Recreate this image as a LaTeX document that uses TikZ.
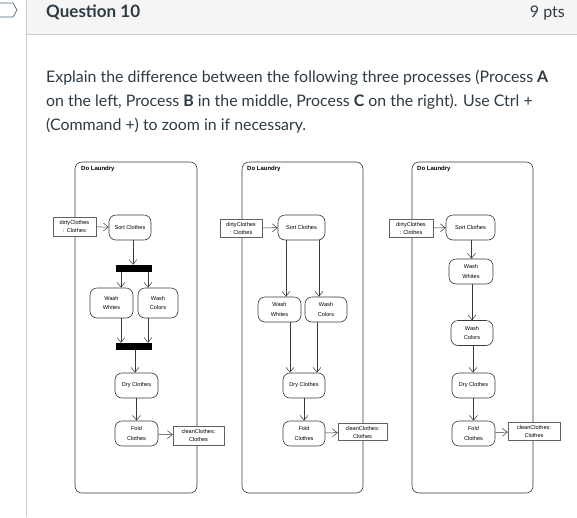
\documentclass[tikz,border=0pt]{standalone}
\usepackage{fontspec}
\setmainfont{Lato}
\newfontfamily\diafont{Liberation Sans}
\usetikzlibrary{arrows.meta}
\definecolor{canvastext}{HTML}{2D3B45}
\definecolor{hdrbg}{HTML}{F5F5F5}
\definecolor{hdrline}{HTML}{C7CDD1}
\definecolor{tabblue}{HTML}{4A6B8A}
\definecolor{dline}{HTML}{3A3A3A}
\tikzset{
  act/.style={draw=dline, line width=0.6pt, rounded corners=7pt, fill=white, inner sep=0pt, align=center, font=\diafont\fontsize{5.6}{9.5}\selectfont},
  obj/.style={draw=dline!80, line width=0.5pt, fill=white, inner sep=0pt, align=center, font=\diafont\fontsize{5.6}{8}\selectfont},
  bar/.style={fill=black, inner sep=0pt, minimum width=36pt, minimum height=7pt},
  frm/.style={draw=dline, line width=0.6pt, rounded corners=7pt},
  arr/.style={draw=dline, line width=0.5pt, -{Straight Barb[length=5pt,width=8pt,line width=0.5pt]}},
  ttl/.style={font=\diafont\bfseries\fontsize{6}{7}\selectfont, anchor=west, inner sep=0pt},
  bodytxt/.style={anchor=base west, inner sep=0pt, text=canvastext, font=\fontsize{15.9}{24}\selectfont},
}
\begin{document}
\begin{tikzpicture}[x=1pt,y=-1pt]
\useasboundingbox (0,0) rectangle (577,517);
\fill[white] (0,0) rectangle (577,517);
% header
\fill[hdrbg] (27,0) rectangle (577,34);
\draw[hdrline, line width=1pt] (27,34) -- (577,34);
\draw[hdrline, line width=1pt] (26.5,0) -- (26.5,517);
\draw[tabblue, line width=0.7pt] (-2,3) -- (13,3) -- (17,10) -- (13,17) -- (-2,17);
\node[anchor=base west, inner sep=0pt, text=canvastext, font=\bfseries\fontsize{17}{20}\selectfont] (qt) at (46,17) {Question 10};
\node[anchor=base east, inner sep=0pt, text=canvastext, font=\fontsize{16}{20}\selectfont] (pts) at (565,17) {9 pts};
% body text
\node[bodytxt] (l1) at (46,82) {Explain the difference between the following three processes (Process \textbf{A}};
\node[bodytxt] (l2) at (46,106) {on the left, Process \textbf{B} in the middle, Process \textbf{C} on the right). Use Ctrl +};
\node[bodytxt] (l3) at (46,130) {(Command +) to zoom in if necessary.};

% ===== Diagram A =====
\draw[frm] (75,162) rectangle (197,493);
\node[ttl] (tA) at (81,169) {Do Laundry};
\node[obj, minimum width=43pt, minimum height=19pt] (dirtyA) at (74.5,226.5) {dirtyClothes\\: Clothes};
\node[act, minimum width=42pt, minimum height=25pt] (sortA) at (130,227.5) {Sort Clothes};
\node[bar] (forkA) at (134,268.5) {};
\node[act, minimum width=43pt, minimum height=30pt] (wwA) at (111.5,303) {Wash\\Whites};
\node[act, minimum width=40pt, minimum height=30pt] (wcA) at (158,303) {Wash\\Colors};
\node[bar] (joinA) at (134,346.5) {};
\node[act, minimum width=43pt, minimum height=25pt] (dryA) at (136.5,385.5) {Dry Clothes};
\node[act, minimum width=43pt, minimum height=25pt] (foldA) at (136.5,433.5) {Fold\\Clothes};
\node[obj, minimum width=51pt, minimum height=19pt] (cleanA) at (198.5,435.5) {cleanClothes:\\Clothes};
\draw[arr] (dirtyA) -- (sortA);
\draw[arr] ([xshift=3pt]sortA.south) -- ([xshift=3pt]sortA.south |- forkA.north);
\draw[arr] ([xshift=9.5pt]wwA.north |- forkA.south) -- ([xshift=9.5pt]wwA.north);
\draw[arr] ([xshift=-10pt]wcA.north |- forkA.south) -- ([xshift=-10pt]wcA.north);
\draw[arr] ([xshift=9.5pt]wwA.south) -- ([xshift=9.5pt]wwA.south |- joinA.north);
\draw[arr] ([xshift=-10pt]wcA.south) -- ([xshift=-10pt]wcA.south |- joinA.north);
\draw[arr] ([xshift=-1.5pt]dryA.north |- joinA.south) -- ([xshift=-1.5pt]dryA.north);
\draw[arr] (dryA) -- (foldA);
\draw[arr] (foldA) -- (cleanA);

% ===== Diagram B =====
\draw[frm] (242,162) rectangle (363,493);
\node[ttl] (tB) at (247,169) {Do Laundry};
\node[obj, minimum width=42pt, minimum height=18pt] (dirtyB) at (241,228) {dirtyClothes\\: Clothes};
\node[act, minimum width=47pt, minimum height=25pt] (sortB) at (301.5,227.5) {Sort Clothes};
\node[act, minimum width=43pt, minimum height=25pt] (wwB) at (279.5,309.5) {Wash\\Whites};
\node[act, minimum width=42pt, minimum height=25pt] (wcB) at (326,309.5) {Wash\\Colors};
\node[act, minimum width=42pt, minimum height=25pt] (dryB) at (304,385.5) {Dry Clothes};
\node[act, minimum width=42pt, minimum height=25pt] (foldB) at (304,433.5) {Fold\\Clothes};
\node[obj, minimum width=49pt, minimum height=17pt] (cleanB) at (362.5,432) {cleanClothes:\\Clothes};
\draw[arr] (dirtyB) -- (sortB);
\draw[arr] ([xshift=6.5pt]wwB.north |- sortB.south) -- ([xshift=6.5pt]wwB.north);
\draw[arr] ([xshift=-7pt]wcB.north |- sortB.south) -- ([xshift=-7pt]wcB.north);
\draw[arr] ([xshift=10.5pt]wwB.south) -- ([xshift=10.5pt]wwB.south |- dryB.north);
\draw[arr] ([xshift=-9pt]wcB.south) -- ([xshift=-9pt]wcB.south |- dryB.north);
\draw[arr] (dryB) -- (foldB);
\draw[arr] (foldB) -- (cleanB);

% ===== Diagram C =====
\draw[frm] (412,162) rectangle (533,493);
\node[ttl] (tC) at (417,169) {Do Laundry};
\node[obj, minimum width=44pt, minimum height=18pt] (dirtyC) at (411,228) {dirtyClothes\\: Clothes};
\node[act, minimum width=49pt, minimum height=25pt] (sortC) at (470.5,227.5) {Sort Clothes};
\node[act, minimum width=44pt, minimum height=25pt] (wwC) at (471,271.5) {Wash\\Whites};
\node[act, minimum width=42pt, minimum height=25pt] (wcC) at (472,333) {Wash\\Colors};
\node[act, minimum width=43pt, minimum height=25pt] (dryC) at (473.5,385.5) {Dry Clothes};
\node[act, minimum width=43pt, minimum height=25pt] (foldC) at (473.5,433.5) {Fold\\Clothes};
\node[obj, minimum width=52pt, minimum height=18pt] (cleanC) at (534,431) {cleanClothes:\\Clothes};
\draw[arr] (dirtyC) -- (sortC);
\draw[arr] ([xshift=1pt]sortC.south) -- ([xshift=1pt]sortC.south |- wwC.north);
\draw[arr] ([xshift=1pt]wwC.south) -- ([xshift=1pt]wwC.south |- wcC.north);
\draw[arr] ([xshift=1pt]wcC.south) -- ([xshift=1pt]wcC.south |- dryC.north);
\draw[arr] (dryC) -- (foldC);
\draw[arr] (foldC) -- (cleanC);
\end{tikzpicture}
\end{document}
